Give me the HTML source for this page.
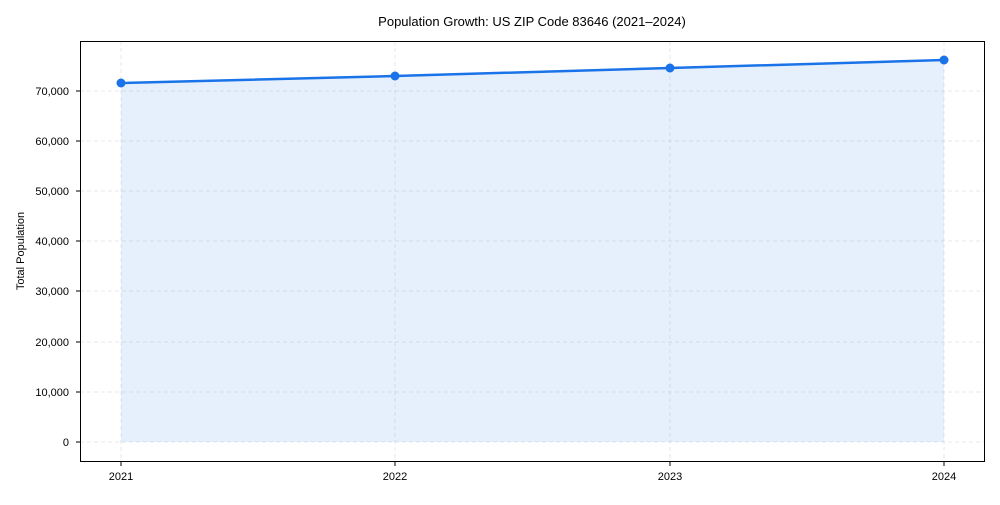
<!DOCTYPE html>
<html><head><style>body{margin:0;background:#fff}</style></head><body>
<svg width="1000" height="500" xmlns="http://www.w3.org/2000/svg" font-family="Liberation Sans, sans-serif">
<rect width="1000" height="500" fill="#fff"/>
<text x="532" y="26" text-anchor="middle" font-size="13" fill="#000">Population Growth: US ZIP Code 83646 (2021–2024)</text>
<g stroke="#dde3ea" stroke-dasharray="4,3" stroke-width="0.8">
<line x1="80" x2="985" y1="442" y2="442"/><line x1="80" x2="985" y1="392" y2="392"/><line x1="80" x2="985" y1="342" y2="342"/><line x1="80" x2="985" y1="291" y2="291"/><line x1="80" x2="985" y1="241" y2="241"/><line x1="80" x2="985" y1="191" y2="191"/><line x1="80" x2="985" y1="141" y2="141"/><line x1="80" x2="985" y1="91" y2="91"/>
<line x1="121" x2="121" y1="41" y2="461"/><line x1="395" x2="395" y1="41" y2="461"/><line x1="670" x2="670" y1="41" y2="461"/><line x1="944" x2="944" y1="41" y2="461"/>
</g>
<polygon points="121,83 395,76 670,68 944,60 944,442 121,442" fill="#1a73e8" fill-opacity="0.11"/>
<polyline points="121,83 395,76 670,68 944,60" fill="none" stroke="#1a73e8" stroke-width="2.5"/>
<g fill="#1a73e8"><circle cx="121" cy="83" r="4.5"/><circle cx="395" cy="76" r="4.5"/><circle cx="670" cy="68" r="4.5"/><circle cx="944" cy="60" r="4.5"/></g>
<rect x="80.5" y="41.5" width="904" height="420" fill="none" stroke="#000" stroke-width="1"/>
<g font-size="11" text-anchor="end" fill="#000">
<text x="69" y="446">0</text><text x="69" y="396">10,000</text><text x="69" y="346">20,000</text><text x="69" y="295">30,000</text><text x="69" y="245">40,000</text><text x="69" y="195">50,000</text><text x="69" y="145">60,000</text><text x="69" y="95">70,000</text>
</g>
<g stroke="#000"><line x1="76" x2="80" y1="442" y2="442"/><line x1="76" x2="80" y1="392" y2="392"/><line x1="76" x2="80" y1="342" y2="342"/><line x1="76" x2="80" y1="291" y2="291"/><line x1="76" x2="80" y1="241" y2="241"/><line x1="76" x2="80" y1="191" y2="191"/><line x1="76" x2="80" y1="141" y2="141"/><line x1="76" x2="80" y1="91" y2="91"/>
<line x1="121" x2="121" y1="462" y2="466"/><line x1="395" x2="395" y1="462" y2="466"/><line x1="670" x2="670" y1="462" y2="466"/><line x1="944" x2="944" y1="462" y2="466"/></g>
<g font-size="11" text-anchor="middle" fill="#000">
<text x="121" y="480">2021</text><text x="395" y="480">2022</text><text x="670" y="480">2023</text><text x="944" y="480">2024</text>
</g>
<text transform="translate(24,251) rotate(-90)" text-anchor="middle" font-size="11" fill="#000">Total Population</text>
</svg>
</body></html>
